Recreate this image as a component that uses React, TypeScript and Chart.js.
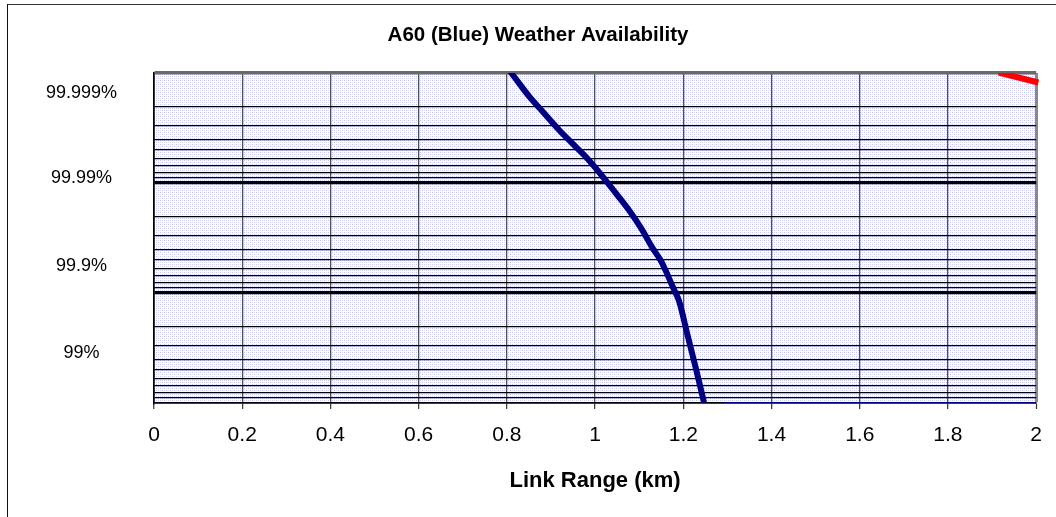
import { useEffect, useRef } from "react";
import { Chart, registerables } from "chart.js";

Chart.register(...registerables);

// Link range (km) vs. unavailability (%) = 100 - availability
const blueRange = [0.79, 0.81, 0.851, 0.885, 0.919, 0.953, 0.986, 1.024, 1.05, 1.077, 1.105, 1.129, 1.148, 1.16, 1.175, 1.19, 1.209, 1.228, 1.247];
const blueUnavail = [0.0008, 0.001, 0.00164, 0.00233, 0.00331, 0.00455, 0.00621, 0.00945, 0.0128, 0.0177, 0.026, 0.0383, 0.05, 0.0625, 0.086, 0.117, 0.236, 0.475, 0.99];
const floorRange = [1.29, 2.0];
const floorUnavail = [1, 1];
const redRange = [1.915, 2.005];
const redUnavail = [0.00099, 0.00122];

const chartTitle = "A60 (Blue) Weather Availability";
const xTickValues = [0, 0.2, 0.4, 0.6, 0.8, 1, 1.2, 1.4, 1.6, 1.8, 2];
const xTickLabels = ["0", "0.2", "0.4", "0.6", "0.8", "1", "1.2", "1.4", "1.6", "1.8", "2"];
const yLabelPositions = [0.00152, 0.009, 0.0563, 0.349];
const yLabels = ["99.999%", "99.99%", "99.9%", "99%"];
const decades = [0.001, 0.01, 0.1];
const minorSteps = [1, 2, 3, 4, 5, 6, 7, 8, 9];

const FONT = "'Liberation Sans', Arial, sans-serif";

const isDecade = (v: number) => Math.abs(Math.log10(v) - Math.round(Math.log10(v))) < 1e-6;

const bgPlugin = {
  id: "bgPattern",
  beforeDraw(chart: any) {
    const { ctx, chartArea: a } = chart;
    ctx.save();
    ctx.fillStyle = "#ffffff";
    ctx.fillRect(0, 0, chart.width, chart.height);
    const p = document.createElement("canvas");
    p.width = 4;
    p.height = 4;
    const pc = p.getContext("2d")!;
    pc.fillStyle = "#ffffff";
    pc.fillRect(0, 0, 4, 4);
    pc.fillStyle = "#c6c6f2";
    pc.fillRect(0, 0, 1, 1);
    pc.fillRect(2, 2, 1, 1);
    pc.fillStyle = "#dcdcf8";
    pc.fillRect(2, 0, 1, 1);
    pc.fillRect(0, 2, 1, 1);
    const pat = ctx.createPattern(p, "repeat");
    if (pat) ctx.fillStyle = pat;
    ctx.fillRect(a.left, a.top, a.right - a.left, a.bottom - a.top);
    ctx.restore();
  },
};

const titlePlugin = {
  id: "frameTitle",
  afterDraw(chart: any) {
    const { ctx } = chart;
    ctx.save();
    ctx.fillStyle = "#000";
    ctx.font = `bold 20.5px ${FONT}`;
    ctx.textAlign = "center";
    ctx.textBaseline = "middle";
    ctx.fillText(chartTitle, 538, 35);
    ctx.restore();
  },
};

export default function App() {
  const ref = useRef<HTMLCanvasElement>(null);

  useEffect(() => {
    if (!ref.current) return;
    const chart = new Chart(ref.current, {
      type: "line",
      data: {
        datasets: [
          {
            data: blueRange.map((x, i) => ({ x, y: blueUnavail[i] })),
            borderColor: "#000080",
            borderWidth: 6,
            pointRadius: 0,
            tension: 0.35,
            yAxisID: "y",
          },
          {
            data: floorRange.map((x, i) => ({ x, y: floorUnavail[i] })),
            borderColor: "#000080",
            borderWidth: 2,
            pointRadius: 0,
            yAxisID: "y",
          },
          {
            data: redRange.map((x, i) => ({ x, y: redUnavail[i] })),
            borderColor: "#ff0000",
            borderWidth: 6,
            pointRadius: 0,
            yAxisID: "y",
            clip: { left: 0, top: 0, right: 3, bottom: 0 },
          },
        ] as any,
      },
      options: {
        responsive: false,
        animation: false,
        layout: { padding: { left: 0, right: 18, top: 73, bottom: 0 } },
        plugins: {
          legend: { display: false },
          tooltip: { enabled: false },
          title: { display: false },
        },
        scales: {
          x: {
            type: "linear",
            min: 0,
            max: 2,
            afterBuildTicks: (s: any) => {
              s.ticks = xTickValues.map((v) => ({ value: v }));
            },
            afterFit: (s: any) => {
              s.height = 114;
            },
            ticks: {
              autoSkip: false,
              maxRotation: 0,
              color: "#000",
              padding: 14,
              font: { family: FONT, size: 21 },
              callback: (_v: any, i: number) => xTickLabels[i],
            },
            grid: {
              color: (c: any) => (c.tick && c.tick.value === 2 ? "#8a8a8a" : c.tick && c.tick.value === 0 ? "#000" : "#505050"),
              lineWidth: (c: any) => (c.tick && c.tick.value === 2 ? 3 : c.tick && c.tick.value === 0 ? 1.5 : 1.3),
              tickLength: 6,
              tickColor: "#333",
              tickWidth: 1.2,
            },
            border: { display: true, color: "#000", width: 1.5 },
            title: {
              display: true,
              text: "Link Range (km)",
              color: "#000",
              font: { family: FONT, size: 22, weight: "bold" },
              padding: { top: 4, bottom: 23 },
            },
          },
          y: {
            type: "logarithmic",
            position: "left",
            weight: 0,
            min: 0.001,
            max: 1,
            reverse: true,
            afterBuildTicks: (s: any) => {
              const t: any[] = [];
              decades.forEach((d) => minorSteps.forEach((k) => t.push({ value: d * k })));
              t.push({ value: 1 });
              s.ticks = t;
            },
            afterFit: (s: any) => {
              s.width = 0;
            },
            ticks: { display: false, autoSkip: false },
            grid: {
              drawTicks: false,
              color: (c: any) => (c.tick && Math.abs(c.tick.value - 0.001) < 1e-9 ? "#6a6a6a" : "#000"),
              lineWidth: (c: any) => {
                const v = c.tick ? c.tick.value : 0;
                if (Math.abs(v - 0.001) < 1e-9) return 3.5;
                if (Math.abs(v - 1) < 1e-9) return 1.5;
                return isDecade(v) ? 3.2 : 1.2;
              },
            },
            border: { display: true, color: "#000", width: 1.5 },
          },
          yLabels: {
            type: "logarithmic",
            position: "left",
            weight: 1,
            min: 0.001,
            max: 1,
            reverse: true,
            afterBuildTicks: (s: any) => {
              s.ticks = yLabelPositions.map((v) => ({ value: v }));
            },
            afterFit: (s: any) => {
              s.width = 154;
            },
            ticks: {
              autoSkip: false,
              color: "#000",
              crossAlign: "center",
              padding: 37,
              font: { family: FONT, size: 18 },
              callback: (_v: any, i: number) => yLabels[i],
            },
            grid: { display: false, drawTicks: false },
            border: { display: false },
          },
        } as any,
      },
      plugins: [bgPlugin, titlePlugin],
    });
    return () => chart.destroy();
  }, []);

  return (
    <div style={{ position: "fixed", left: 0, top: 0, width: 1056, height: 517, background: "#fff" }}>
      <canvas ref={ref} width={1056} height={517} style={{ position: "absolute", left: 0, top: 0 }} />
      <div
        style={{
          position: "absolute",
          left: 7,
          top: 4,
          right: 0,
          bottom: 0,
          borderTop: "1.5px solid #333",
          borderLeft: "1.5px solid #111",
          pointerEvents: "none",
        }}
      />
    </div>
  );
}
